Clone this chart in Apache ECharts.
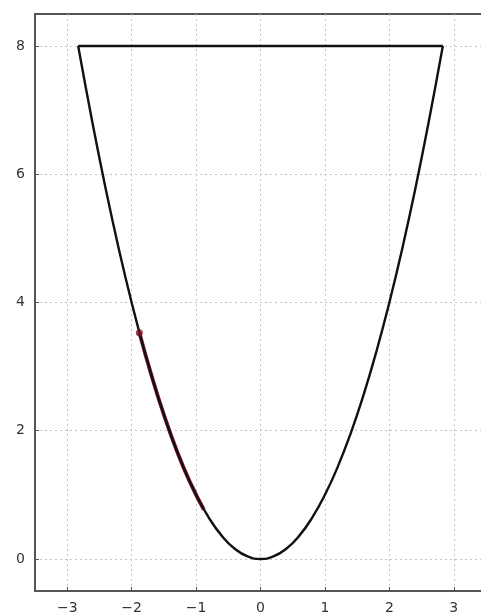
<!DOCTYPE html>
<html><head><meta charset="utf-8">
<script src="https://cdn.jsdelivr.net/npm/echarts@6/dist/echarts.min.js"></script>
<style>html,body{margin:0;padding:0;background:#fff}#c{width:481px;height:615px}</style>
</head><body><div id="c"></div>
<script>
// parabola outline
const curveX = [-2.83,-2.6,-2.4,-2.2,-2.0,-1.8,-1.6,-1.4,-1.2,-1.0,-0.8,-0.6,-0.4,-0.2,0,0.2,0.4,0.6,0.8,1.0,1.2,1.4,1.6,1.8,2.0,2.2,2.4,2.6,2.83];
const curveY = [8.0,6.76,5.76,4.84,4.0,3.24,2.56,1.96,1.44,1.0,0.64,0.36,0.16,0.04,0,0.04,0.16,0.36,0.64,1.0,1.44,1.96,2.56,3.24,4.0,4.84,5.76,6.76,8.0];
// top closing line
const topX = [-2.83, 2.83];
const topY = [8.0, 8.0];
// red highlighted segment
const redX = [-1.88,-1.7,-1.5,-1.3,-1.1,-0.88];
const redY = [3.53,2.89,2.25,1.69,1.21,0.77];
const dotX = [-1.88];
const dotY = [3.53];
const xTicks = [-3,-2,-1,0,1,2,3];
const yTicks = [0,2,4,6,8];

const zip = (a,b)=>a.map((v,i)=>[v,b[i]]);
const chart = echarts.init(document.getElementById('c'));
const lab = {color:'#333', fontFamily:'DejaVu Sans', fontSize:14};
chart.setOption({
  animation:false,
  grid:{left:35, top:14, width:451, bottom:24, show:true, borderColor:'#555', borderWidth:2, containLabel:false, outerBoundsMode:'none'},
  xAxis:{type:'value', min:-3.5, max:3.5,
    axisLine:{onZero:false, lineStyle:{color:'#555', width:2}},
    axisTick:{inside:true, length:4, lineStyle:{color:'#555'}, customValues:xTicks},
    axisLabel:{...lab, margin:10, customValues:xTicks, formatter:v=>String(v).replace('-','\u2212')},
    splitLine:{show:true, lineStyle:{color:'#c4c4c4', type:[2,3], width:1}}},
  yAxis:{type:'value', min:-0.5, max:8.5,
    axisLine:{show:true, onZero:false, lineStyle:{color:'#555', width:2}},
    axisTick:{show:true, inside:true, length:4, lineStyle:{color:'#555'}, customValues:yTicks},
    axisLabel:{...lab, margin:10, customValues:yTicks},
    splitLine:{show:true, lineStyle:{color:'#c4c4c4', type:[2,3], width:1}}},
  series:[
    {type:'line', data:zip(redX,redY), smooth:true, symbol:'none', lineStyle:{color:'#8a1a2a', width:3.8}, z:2},
    {type:'line', data:zip(curveX,curveY), smooth:true, symbol:'none', lineStyle:{color:'#111', width:2.4}, z:3},
    {type:'line', data:zip(topX,topY), symbol:'none', lineStyle:{color:'#111', width:2.4}, z:3},
    {type:'scatter', data:zip(dotX,dotY), symbolSize:7, itemStyle:{color:'#7a1020'}, z:4}
  ]
});
</script></body></html>
